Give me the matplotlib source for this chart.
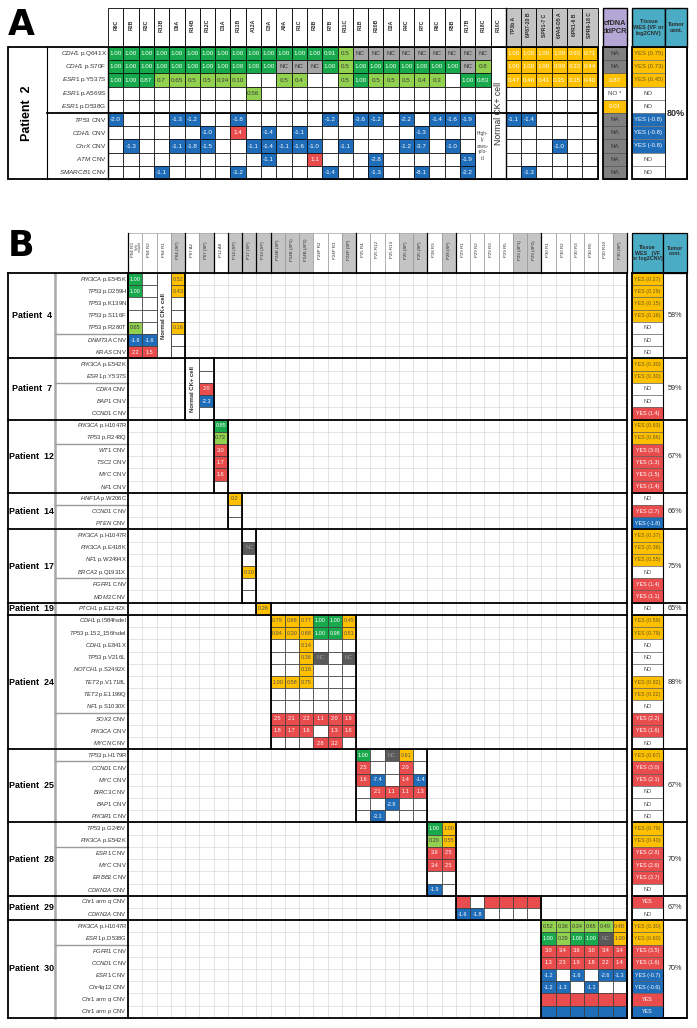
import re
import matplotlib
matplotlib.use('Agg')
import matplotlib.pyplot as plt
from matplotlib.patches import Rectangle

plt.rcParams['font.family'] = ['Liberation Sans', 'DejaVu Sans']
plt.rcParams['mathtext.fontset'] = 'custom'
plt.rcParams['mathtext.it'] = 'Liberation Sans:italic'
plt.rcParams['mathtext.rm'] = 'Liberation Sans'
plt.rcParams['mathtext.bf'] = 'Liberation Sans:bold'
plt.rcParams['mathtext.sf'] = 'Liberation Sans'

# ======================= Panel A data =======================
a_patient = 'Patient  2'
a_cell_cols = ['R9C', 'R2B', 'R3C', 'R13B', 'D6A', 'R14B', 'R12C', 'D1A', 'R11B', 'A12A', 'D3A',
               'A9A', 'R1C', 'R3B', 'R7B', 'R11C', 'R1B', 'R20B', 'D2A', 'R4C', 'R7C', 'R6C', 'R5B',
               'R17B', 'R18C', 'R10C']
a_pool_cols = ['7P3b A', '6P87-20 B', 'SPR1-7 C', '6PA8-D5 A', '6PR1-6 B', 'SPR9-18 C']
a_genes = ['CDH1 p.Q641X', 'CDH1 p.S70F', 'ESR1 p.Y537S', 'ESR1 p.A569S', 'ESR1 p.D538G',
           'TP53 CNV', 'CDH1 CNV', 'ChrX CNV', 'ATM CNV', 'SMARCB1 CNV']
a_cell_vals = [
    '1.00 1.00 1.00 1.00 1.00 1.00 1.00 1.00 1.00 1.00 1.00 1.00 1.00 1.00 0.91 0.5 NC NC NC NC NC NC NC NC NC .',
    '1.00 1.00 1.00 1.00 1.00 1.00 1.00 1.00 1.00 1.00 1.00 NC NC NC 1.00 0.5 1.00 1.00 1.00 1.00 1.00 1.00 1.00 NC 0.8 .',
    '1.00 1.00 0.87 0.7 0.65 0.5 0.5 0.34 0.10 . . 0.5 0.4 . . 0.5 1.00 0.5 0.5 0.5 0.4 0.3 . 1.00 0.83 .',
    '. . . . . . . . . 0.56 . . . . . . . . . . . . . . . .',
    '. . . . . . . . . . . . . . . . . . . . . . . . . .',
    '-2.0 . . . -1.3 -1.2 . . -1.8 . . . . . -1.2 . -3.6 -1.2 . -2.2 . -1.4 -1.6 -1.9 . .',
    '. . . . . . -1.0 . 1.4 . -1.4 . -1.1 . . . . . . . -1.3 . . . . .',
    '. -1.3 . . -1.1 -1.8 -1.5 . . -1.1 -1.4 -1.1 -1.6 -1.0 . -1.1 . . . -1.2 -3.7 . -1.0 . . .',
    '. . . . . . . . . . -1.1 . . 1.1 . . . -2.8 . . . . . -1.9 . .',
    '. . . -1.1 . . . . -1.2 . . . . . -1.4 . . -1.3 . . -8.1 . . -2.2 . .',
]
a_pool_vals = [
    '1.00 1.00 1.00 1.00 0.93 0.71',
    '1.00 1.00 1.00 0.99 0.33 0.44',
    '0.47 0.46 0.41 0.35 0.15 0.40',
    '. . . . . .',
    '. . . . . .',
    '-1.1 -1.4 . . . .',
    '. . . . . .',
    '. . . -1.0 . .',
    '. . . . . .',
    '. -1.3 . . . .',
]
a_cfdna = ['NA', 'NA', '0.87', 'NO *', '0.01', 'NA', 'NA', 'NA', 'NA', 'NA']
a_wes = ['YES (0.75)', 'YES (0.73)', 'YES (0.45)', 'NO', 'NO',
         'YES (-0.8)', 'YES (-0.8)', 'YES (-0.8)', 'NO', 'NO']
a_tumor = '80%'
a_normal_col = 'R10C'
a_aneuploid_col = 'R18C'

# ======================= Panel B data =======================
b_cols = ['P04 R3', 'P04 R2', 'P04 R1', 'P04 (SP)', 'P07 A2', 'P07 (SP)', 'P12 A8', 'P14 (SP)',
          'P17 (SP)', 'P19 (SP)', 'P24B (SP)', 'P24B (4P1)', 'P24B (4P2)', 'P24P R2', 'P24P R3',
          'P24P (SP)', 'P25 R4', 'P25 R12', 'P25 R13', 'P25 (SP)', 'P25 (SP)', 'P28 R3', 'P28 (SP)',
          'P29 R1', 'P29 R2', 'P29 R3', 'P29 R5', 'P29 (4P1)', 'P29 (4P2)', 'P30 R1', 'P30 R2',
          'P30 R3', 'P30 R5', 'P30 R10', 'P30 (SP)']
b_normal_cols = ['P04 R1', 'P07 A2']

p4_genes = ['PIK3CA p.E545K', 'TP53 p.D259H', 'TP53 p.K139N', 'TP53 p.S116F', 'TP53 p.R280T',
            'DNMT3A CNV', 'KRAS CNV']
p4_vals = ['1.00 . . 0.52', '1.00 . . 0.43', '. . . .', '. . . .', '0.65 . . 0.16',
           '-1.6 -1.6 . .', '2.2 1.5 . .']
p4_wes = ['YES (0.27)', 'YES (0.29)', 'YES (0.15)', 'YES (0.16)', 'NO', 'NO', 'NO']
p4_tumor = '58%'

p7_genes = ['PIK3CA p.E542K', 'ESR1 p.Y537S', 'CDK4 CNV', 'BAP1 CNV', 'CCND1 CNV']
p7_vals = ['. .', '. .', '. 2.0', '. -2.3', '. .']
p7_wes = ['YES (0.30)', 'YES (0.30)', 'NO', 'NO', 'YES (1.4)']
p7_tumor = '59%'

p12_genes = ['PIK3CA p.H1047R', 'TP53 p.R248Q', 'WT1 CNV', 'TSC2 CNV', 'MYC CNV', 'NF1 CNV']
p12_vals = ['0.85', '0.73', '3.0', '1.7', '1.6', '.']
p12_wes = ['YES (0.63)', 'YES (0.86)', 'YES (3.0)', 'YES (1.3)', 'YES (1.5)', 'YES (1.4)']
p12_tumor = '67%'

p14_genes = ['HNF1A p.W206C', 'CCND1 CNV', 'PTEN CNV']
p14_vals = ['0.2', '.', '.']
p14_wes = ['NO', 'YES (2.7)', 'YES (-1.8)']
p14_tumor = '66%'

p17_genes = ['PIK3CA p.H1047R', 'PIK3CA p.E418K', 'NF1 p.W2494X', 'BRCA2 p.Q1931X', 'FGFR1 CNV',
             'MDM2 CNV']
p17_vals = ['.', 'NC', '.', '0.10', '.', '.']
p17_wes = ['YES (0.37)', 'YES (0.36)', 'YES (0.55)', 'NO', 'YES (1.4)', 'YES (1.1)']
p17_tumor = '75%'

p19_genes = ['PTCH1 p.E1242X']
p19_vals = ['0.28']
p19_wes = ['NO']
p19_tumor = '65%'

p24_genes = ['CDH1 p.I584fsdel', 'TP53 p.152_156fsdel', 'CDH1 p.E841X', 'TP53 p.V216L',
             'NOTCH1 p.S2492X', 'TET2 p.V1718L', 'TET2 p.E1199Q', 'NF1 p.S1030X', 'SOX2 CNV',
             'PIK3CA CNV', 'MYCN CNV']
p24_vals = ['0.79 0.68 0.77 1.00 1.00 0.45', '0.94 0.30 0.88 1.00 0.98 0.51', '. . 0.14 . . .',
            '. . 0.36 NC . NC', '. . 0.18 . . .', '1.00 0.58 0.75 . . .', '. . . . . .',
            '. . . . . .', '2.5 2.1 2.2 1.1 2.0 1.9', '1.8 1.7 1.6 . 1.3 1.6', '. . . 2.8 3.2 .']
p24_wes = ['YES (0.59)', 'YES (0.79)', 'NO', 'NO', 'NO', 'YES (0.82)', 'YES (0.22)', 'NO',
           'YES (2.2)', 'YES (1.6)', 'NO']
p24_tumor = '88%'

p25_genes = ['TP53 p.H179R', 'CCND1 CNV', 'MYC CNV', 'BIRC3 CNV', 'BAP1 CNV', 'PIK3R1 CNV']
p25_vals = ['1.00 . NC 0.61 .', '2.5 . . 2.0 .', '1.6 -7.4 . 1.4 -1.4', '. 2.1 1.1 1.1 1.3',
            '. . -2.8 . .', '. -3.1 . . .']
p25_wes = ['YES (0.67)', 'YES (3.0)', 'YES (2.1)', 'NO', 'NO', 'NO']
p25_tumor = '67%'

p28_genes = ['TP53 p.G245V', 'PIK3CA p.E542K', 'ESR1 CNV', 'MYC CNV', 'ERBB2 CNV', 'CDKN2A CNV']
p28_vals = ['1.00 1.00', '0.20 0.55', '3.9 2.5', '3.4 2.5', '. .', '-1.9 .']
p28_wes = ['YES (0.79)', 'YES (0.40)', 'YES (2.8)', 'YES (2.6)', 'YES (3.7)', 'NO']
p28_tumor = '70%'

p29_genes = ['Chr1 arm q CNV', 'CDKN2A CNV']
p29_vals = ['gain . gain gain gain gain', '-1.6 -1.8 . . . .']
p29_wes = ['YES', 'NO']
p29_tumor = '67%'

p30_genes = ['PIK3CA p.H1047R', 'ESR1 p.D538G', 'FGFR1 CNV', 'CCND1 CNV', 'ESR1 CNV',
             'Chr4q12 CNV', 'Chr1 arm q CNV', 'Chr1 arm p CNV']
p30_vals = ['0.52 0.36 0.34 0.65 0.49 0.48', '1.00 0.29 1.00 1.00 NC 1.00',
            '3.0 3.4 3.6 3.0 3.4 3.4', '1.3 2.3 1.9 1.8 2.2 1.4', '-1.2 . -1.6 . -2.6 -1.3',
            '-1.2 -1.3 . -1.1 . .', 'gain gain gain gain gain gain',
            'loss loss loss loss loss loss']
p30_wes = ['YES (0.30)', 'YES (0.60)', 'YES (3.5)', 'YES (1.6)', 'YES (-0.7)', 'YES (-0.6)',
           'YES', 'YES']
p30_tumor = '70%'

b_patient_ids = [4, 7, 12, 14, 17, 19, 24, 25, 28, 29, 30]
b_genes = [p4_genes, p7_genes, p12_genes, p14_genes, p17_genes, p19_genes, p24_genes,
           p25_genes, p28_genes, p29_genes, p30_genes]
b_vals = [p4_vals, p7_vals, p12_vals, p14_vals, p17_vals, p19_vals, p24_vals, p25_vals,
          p28_vals, p29_vals, p30_vals]
b_wes = [p4_wes, p7_wes, p12_wes, p14_wes, p17_wes, p19_wes, p24_wes, p25_wes, p28_wes,
         p29_wes, p30_wes]
b_tumor = [p4_tumor, p7_tumor, p12_tumor, p14_tumor, p17_tumor, p19_tumor, p24_tumor,
           p25_tumor, p28_tumor, p29_tumor, p30_tumor]

# ======================= Style / layout =======================
GREEN = '#17a94b'
LGREEN = '#92d050'
ORANGE = '#ffc000'
RED = '#e84c4c'
BLUE = '#1f6cb8'
NC_A = '#a6a6a6'
NC_B = '#5a5a5a'
NA_C = '#808080'
HDR_GREY = '#c4c4c4'
PURPLE = '#b4a7d6'
TEAL = '#4bacc6'
DARK = '#2b2b2b'

W, H = 697, 1028
fig = plt.figure(figsize=(W / 100, H / 100), dpi=100)
ax = fig.add_axes([0, 0, 1, 1])
ax.set_xlim(0, W)
ax.set_ylim(H, 0)
ax.axis('off')


def rect(x, y, w, h, fc, ec='black', lw=0.5, z=2):
    ax.add_patch(Rectangle((x, y), w, h, facecolor=fc, edgecolor=ec, linewidth=lw, zorder=z))


def hline(y, x0, x1, lw=1.3, c='black', z=6):
    ax.plot([x0, x1], [y, y], color=c, lw=lw, zorder=z, solid_capstyle='projecting')


def vline(x, y0, y1, lw=1.3, c='black', z=6):
    ax.plot([x, x], [y0, y1], color=c, lw=lw, zorder=z, solid_capstyle='projecting')


def gene_label(g):
    if ' p.' in g:
        name, rest = g.split(' p.', 1)
        rest = 'p.' + rest
    else:
        name, rest = g[:-4], 'CNV'
    return r'$\mathit{' + name.replace(' ', r'\ ') + '}$ ' + rest


def is_cnv(g):
    return g.endswith('CNV')


def cell_style(v, cnv, pool, panel):
    """returns (facecolor, textcolor, text) or None for blank"""
    if v == '.':
        return None
    if v == 'NC':
        return (NC_A, '#333333', 'NC') if panel == 'A' else (NC_B, '#9a9a9a', 'NC')
    if v == 'gain':
        return (RED, 'white', '')
    if v == 'loss':
        return (BLUE, 'white', '')
    f = float(v)
    if cnv:
        return (BLUE if f < 0 else RED, 'white', v)
    if pool:
        return (ORANGE, 'white' if panel == 'A' else '#555555', v)
    if f >= 0.82:
        return (GREEN, 'white', v)
    return (LGREEN, '#3a3a3a', v)


def wes_style(v, cnv, row_tokens):
    if v == 'NO':
        return ('white', '#444444')
    if not cnv:
        return (ORANGE, '#6b5a1e')
    m = re.search(r'\((-?[\d.]+)\)', v)
    if m:
        return (BLUE if float(m.group(1)) < 0 else RED, 'white')
    return (BLUE if 'loss' in row_tokens else RED, 'white')


# ======================= Panel A =======================
AX0, ACW = 108.0, 15.3
AHY0, AY0, ARH = 8.0, 47.0, 13.2
ALEFT, ALAB = 8.0, 47.0
a_cols = a_cell_cols + a_pool_cols
a_pool = [False] * len(a_cell_cols) + [True] * len(a_pool_cols)
na_rows = len(a_genes)
a_right = AX0 + len(a_cols) * ACW
a_bottom = AY0 + na_rows * ARH

ax.text(21, 25, 'A', fontsize=25, fontweight='bold', ha='center', va='center',
        family='DejaVu Sans')

for j, name in enumerate(a_cols):
    x = AX0 + j * ACW
    rect(x, AHY0, ACW, AY0 - AHY0, HDR_GREY if a_pool[j] else 'white', 'black', 0.6)
    ax.text(x + ACW / 2, 25, name, rotation=90, fontsize=3.7, fontweight='bold',
            ha='center', va='center', color=DARK, zorder=7)

first_cnv_a = next(i for i, g in enumerate(a_genes) if is_cnv(g))
for i, g in enumerate(a_genes):
    cnv = is_cnv(g)
    toks = a_cell_vals[i].split() + a_pool_vals[i].split()
    y = AY0 + i * ARH
    for j, name in enumerate(a_cols):
        if name == a_normal_col or (cnv and name == a_aneuploid_col):
            continue
        x = AX0 + j * ACW
        st = cell_style(toks[j] if j < len(toks) else '.', cnv, a_pool[j], 'A')
        rect(x, y, ACW, ARH, st[0] if st else 'white', 'black', 0.5)
        if st and st[2]:
            ax.text(x + ACW / 2, y + ARH / 2, st[2], fontsize=4.5, color=st[1],
                    ha='center', va='center', zorder=7)
    ax.text(AX0 - 1.2, y + ARH / 2, gene_label(g), fontsize=4.6, color='#333333',
            ha='right', va='center', zorder=7)

# merged "Normal CK+ cell" column
jn = a_cols.index(a_normal_col)
xn = AX0 + jn * ACW
rect(xn, AY0, ACW, na_rows * ARH, 'white', 'black', 0.6)
ax.text(xn + ACW / 2, (AY0 + a_bottom) / 2, 'Normal CK+ cell', rotation=90, fontsize=6.2,
        ha='center', va='center', color=DARK, zorder=7)
# merged "Highly aneuploid" cell
ja = a_cols.index(a_aneuploid_col)
xa = AX0 + ja * ACW
ya = AY0 + first_cnv_a * ARH
rect(xa, ya, ACW, a_bottom - ya, 'white', 'black', 0.6)
ax.text(xa + ACW / 2, (ya + a_bottom) / 2, 'High-\nly\naneu-\n-plo-\nid', fontsize=3.4,
        ha='center', va='center', color='#444444', linespacing=1.25, zorder=7)

# frame lines panel A
rect(ALEFT, AY0, a_right - ALEFT, a_bottom - AY0, 'none', 'black', 1.3, z=6)
vline(ALAB, AY0, a_bottom, lw=0.8)
vline(AX0, AY0, a_bottom, lw=1.0)
vline(AX0 + len(a_cell_cols) * ACW, AHY0, a_bottom, lw=1.0)
hline(ya, ALAB, a_right, lw=1.3)
ax.text(27, (AY0 + a_bottom) / 2, a_patient, rotation=90, fontsize=9, fontweight='bold',
        ha='center', va='center', color='black', zorder=7)

# cfDNA column
CFX, CFW = 603.0, 24.0
rect(CFX, AHY0, CFW, AY0 - AHY0, PURPLE, 'black', 1.0)
ax.text(CFX + CFW / 2, (AHY0 + AY0) / 2, 'cfDNA\nddPCR', fontsize=5.3, fontweight='bold',
        ha='center', va='center', color=DARK, linespacing=1.2, zorder=7)
for i, v in enumerate(a_cfdna):
    y = AY0 + i * ARH
    if v == 'NA':
        fc, tc = NA_C, '#333333'
    elif v.startswith('NO'):
        fc, tc = 'white', '#444444'
    else:
        fc, tc = ORANGE, 'white'
    rect(CFX, y, CFW, ARH, fc, '#555555', 0.5)
    ax.text(CFX + CFW / 2, y + ARH / 2, v, fontsize=4.5, color=tc, ha='center', va='center',
            zorder=7)
rect(CFX, AY0, CFW, a_bottom - AY0, 'none', 'black', 1.3, z=6)

# Tissue WES / tumor columns panel A
AWX, AWW, ATX, ATW = 632.0, 33.0, 665.0, 22.0
rect(AWX, AHY0, AWW, AY0 - AHY0, TEAL, 'black', 1.0)
rect(ATX, AHY0, ATW, AY0 - AHY0, TEAL, 'black', 1.0)
ax.text(AWX + AWW / 2, (AHY0 + AY0) / 2, 'Tissue\nWES (VF or\nlog2CNV)', fontsize=4.1,
        fontweight='bold', ha='center', va='center', color=DARK, linespacing=1.15, zorder=7)
ax.text(ATX + ATW / 2, (AHY0 + AY0) / 2, 'Tumor\ncont.', fontsize=4.0, fontweight='bold',
        ha='center', va='center', color=DARK, linespacing=1.15, zorder=7)
for i, v in enumerate(a_wes):
    y = AY0 + i * ARH
    fc, tc = wes_style(v, is_cnv(a_genes[i]), [])
    rect(AWX, y, AWW, ARH, fc, '#777777', 0.5)
    ax.text(AWX + AWW / 2, y + ARH / 2, v, fontsize=4.3, color=tc, ha='center', va='center',
            zorder=7)
rect(ATX, AY0, ATW, a_bottom - AY0, 'white', 'black', 0.6)
ax.text(ATX + ATW / 2, (AY0 + a_bottom) / 2, a_tumor, fontsize=6.5, fontweight='bold',
        ha='center', va='center', color=DARK, zorder=7)
rect(AWX, AY0, ATX + ATW - AWX, a_bottom - AY0, 'none', 'black', 1.3, z=6)

# ======================= Panel B =======================
BX0, BCW = 128.0, 14.25
BHY0, BY0, BRH = 233.0, 273.0, 12.21
BLEFT, BLAB = 8.0, 55.0
nb = len(b_cols)
b_right = BX0 + nb * BCW
b_pool = ['(' in c for c in b_cols]
col_pid = [int(re.match(r'P(\d+)', c).group(1)) for c in b_cols]
n_rows_b = sum(len(g) for g in b_genes)
b_bottom = BY0 + n_rows_b * BRH

ax.text(21, 246, 'B', fontsize=25, fontweight='bold', ha='center', va='center',
        family='DejaVu Sans')

# header
for j, name in enumerate(b_cols):
    x = BX0 + j * BCW
    rect(x, BHY0, BCW, BY0 - BHY0, HDR_GREY if b_pool[j] else 'white', '#8a8a8a', 0.4)
    if j == 0:
        ax.text(x + BCW / 2 - 2.2, 250, name, rotation=90, fontsize=3.2, ha='center',
                va='center', color=DARK, zorder=7)
        ax.text(x + BCW / 2 + 3.2, 246, 'Highly\naneuploid', rotation=90, fontsize=1.9,
                ha='center', va='center', color='#555555', linespacing=1.0, zorder=7)
    else:
        ax.text(x + BCW / 2, 250, name, rotation=90, fontsize=3.2, ha='center', va='center',
                color=DARK, zorder=7)

# light background grid
for j in range(nb + 1):
    vline(BX0 + j * BCW, BY0, b_bottom, lw=0.4, c='#d2d2d2', z=1)
for r in range(n_rows_b + 1):
    hline(BY0 + r * BRH, BX0, b_right, lw=0.4, c='#d2d2d2', z=1)

# name column separator
vline(BLAB, BY0, b_bottom, lw=1.8, c='#a8a8a8', z=5)

row0 = 0
boundaries = [BY0]
for k, pid in enumerate(b_patient_ids):
    genes = b_genes[k]
    vals = b_vals[k]
    wes = b_wes[k]
    cols_k = [j for j in range(nb) if col_pid[j] == pid]
    c0, c1 = cols_k[0], cols_k[-1] + 1
    ytop = BY0 + row0 * BRH
    ybot = ytop + len(genes) * BRH
    # block cells
    for i, g in enumerate(genes):
        cnv = is_cnv(g)
        toks = vals[i].split()
        y = ytop + i * BRH
        for m, j in enumerate(cols_k):
            if b_cols[j] in b_normal_cols:
                continue
            x = BX0 + j * BCW
            st = cell_style(toks[m] if m < len(toks) else '.', cnv, b_pool[j], 'B')
            rect(x, y, BCW, BRH, st[0] if st else 'white', '#3a3a3a', 0.5, z=3)
            if st and st[2]:
                ax.text(x + BCW / 2, y + BRH / 2, st[2], fontsize=4.0, color=st[1],
                        ha='center', va='center', zorder=7)
        ax.text(BX0 - 1.2, y + BRH / 2, gene_label(g), fontsize=4.2, color='#333333',
                ha='right', va='center', zorder=7)
        # WES cell
        fc, tc = wes_style(wes[i], cnv, toks)
        rect(632, y, 31, BRH, fc, '#555555', 0.4, z=3)
        ax.text(632 + 15.5, y + BRH / 2, wes[i], fontsize=3.9, color=tc, ha='center',
                va='center', zorder=7)
    # merged normal-cell columns
    for j in cols_k:
        if b_cols[j] in b_normal_cols:
            x = BX0 + j * BCW
            rect(x, ytop, BCW, ybot - ytop, 'white', '#3a3a3a', 0.6, z=3)
            ax.text(x + BCW / 2, (ytop + ybot) / 2, 'Normal CK+ cell', rotation=90,
                    fontsize=4.3, fontweight='bold', ha='center', va='center', color=DARK,
                    zorder=7)
    # mutation / CNV separator in label column
    flags = [is_cnv(g) for g in genes]
    for i in range(1, len(genes)):
        if flags[i] and not flags[i - 1]:
            hline(ytop + i * BRH, BLAB, BX0, lw=1.0, c='#9a9a9a', z=5)
    # block verticals
    vline(BX0 + c0 * BCW, ytop, ybot, lw=1.3)
    vline(BX0 + c1 * BCW, ytop, ybot, lw=1.3)
    # header group boundaries
    vline(BX0 + c1 * BCW, BHY0, BY0, lw=0.9)
    # patient label and tumor content
    ax.text((BLEFT + BLAB) / 2, (ytop + ybot) / 2, 'Patient  %d' % pid, fontsize=6.4,
            fontweight='bold', ha='center', va='center', color='black', zorder=7)
    ax.text(675, (ytop + ybot) / 2, b_tumor[k], fontsize=5.2, ha='center', va='center',
            color=DARK, zorder=7)
    row0 += len(genes)
    boundaries.append(ybot)

for yb in boundaries:
    hline(yb, BLEFT, b_right, lw=1.3)
    hline(yb, 632, 687, lw=1.3)
vline(BLEFT, BY0, b_bottom, lw=1.3)
vline(BX0, BY0, b_bottom, lw=1.3)
vline(b_right, BY0, b_bottom, lw=1.3)
vline(BX0, BHY0, BY0, lw=0.9)

# WES header & box panel B
rect(632, BHY0, 31, BY0 - BHY0, TEAL, 'black', 0.9)
rect(663, BHY0, 24, BY0 - BHY0, TEAL, 'black', 0.9)
ax.text(632 + 15.5, (BHY0 + BY0) / 2, 'Tissue\nWES   (VF\nor log2CNV)', fontsize=3.8,
        fontweight='bold', ha='center', va='center', color=DARK, linespacing=1.15, zorder=7)
ax.text(663 + 12, (BHY0 + BY0) / 2 - 2, 'Tumor\ncont.', fontsize=3.8, fontweight='bold',
        ha='center', va='center', color=DARK, linespacing=1.15, zorder=7)
rect(632, BY0, 55, b_bottom - BY0, 'none', 'black', 1.3, z=6)
vline(663, BY0, b_bottom, lw=0.8)

fig.savefig('out.png', dpi=100)
